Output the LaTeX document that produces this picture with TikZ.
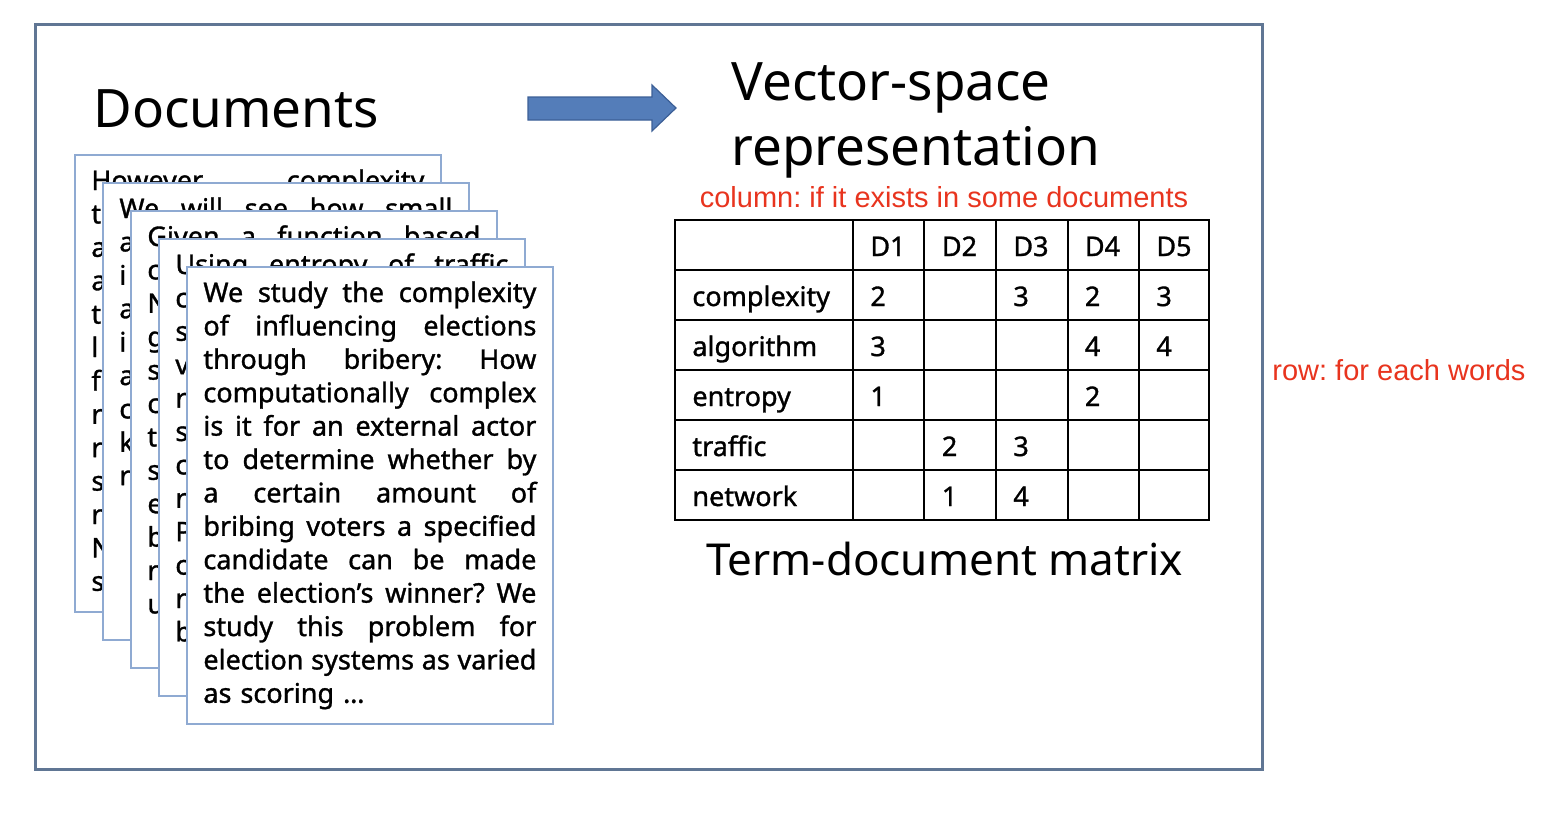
\documentclass[tikz,border=0pt]{standalone}
\usepackage{fontspec}
\setmainfont{Noto Sans}
\newfontfamily\boldishfont{Noto Sans}[FakeBold=1.2]
\newfontfamily\redfont{Liberation Sans}
\usetikzlibrary{positioning}

\definecolor{framegray}{RGB}{96,118,148}
\definecolor{sheetblue}{RGB}{143,170,210}
\definecolor{arrowblue}{RGB}{84,125,185}
\definecolor{arrowedge}{RGB}{60,95,150}
\definecolor{notered}{RGB}{232,52,30}

\newlength{\doctextw}
\setlength{\doctextw}{166.5pt}
\newcommand{\jl}[1]{\makebox[\doctextw][l]{\spaceskip=.25em plus 1fill\relax\xspaceskip=\spaceskip #1}}

\tikzset{
 sheet/.style={draw=sheetblue, fill=white, line width=1pt, minimum width=183pt, minimum height=228.5pt, anchor=north west, inner sep=0},
 doctext/.style={anchor=base west, inner sep=0, align=left, text width=\doctextw, font=\boldishfont\fontsize{13.5}{16.7}\selectfont},
 doctitle/.style={anchor=base west, inner sep=0, align=left, font=\fontsize{26.5}{32.5}\selectfont},
 cell/.style={anchor=base west, inner sep=0, font=\boldishfont\fontsize{13.5}{16}\selectfont},
 rednote/.style={text=notered, inner sep=0, font=\redfont\fontsize{14.5}{17}\selectfont},
}

\begin{document}
\frenchspacing
\begin{tikzpicture}[x=0.5pt,y=-0.5pt]
\useasboundingbox (0,0) rectangle (1546,816);
\draw[framegray, line width=1.5pt] (35,24) rectangle (1262,769);

\node[doctitle] (docs) at (93,127) {Documents};
\draw[arrowedge, fill=arrowblue, line width=0.6pt] (528,97) -- (652,97) -- (652,85) -- (676,108) -- (652,131) -- (652,120) -- (528,120) -- cycle;
\node[doctitle] (vsr) at (731,165) {Vector-space\\representation};

% stack of documents, back to front
\node[sheet] (s1) at (74,154) {};
\node[doctext] (t1) at ([shift={(17,36)}]s1.north west) {\jl{However, complexity}\\t\\a\\a\\t\\l\\f\\r\\r\\s\\r\\N\\s};
\node[sheet] (s2) at (102,182) {};
\node[doctext] (t2) at ([shift={(17,36)}]s2.north west) {\jl{We will see how small}\\a\\i\\a\\i\\a\\c\\k\\r};
\node[sheet] (s3) at (130,210) {};
\node[doctext] (t3) at ([shift={(17,36)}]s3.north west) {\jl{Given a function based}\\c\\N\\g\\s\\c\\t\\s\\e\\b\\r\\u};
\node[sheet] (s4) at (158,238) {};
\node[doctext] (t4) at ([shift={(17,36)}]s4.north west) {\jl{Using entropy of traffic}\\c\\s\\v\\r\\s\\c\\r\\P\\c\\r\\b};
\node[sheet] (s5) at (186,266) {};
\node[doctext] (t5) at ([shift={(17,36)}]s5.north west) {\jl{We study the complexity}\\
 \jl{of influencing elections}\\
 \jl{through bribery: How}\\
 \jl{computationally complex}\\
 \jl{is it for an external actor}\\
 \jl{to determine whether by}\\
 \jl{a certain amount of}\\
 \jl{bribing voters a specified}\\
 \jl{candidate can be made}\\
 \jl{the election’s winner? We}\\
 \jl{study this problem for}\\
 \jl{election systems as varied}\\
 as scoring \ldots};

% term-document matrix
\draw[line width=1.2pt] (675,220) rectangle (1209,520);
\foreach \x in {853,924,996,1068,1139}
 \draw[line width=1.2pt] (\x,220) -- (\x,520);
\foreach \y in {270,320,...,470}
 \draw[line width=1.2pt] (675,\y) -- (1209,\y);
\foreach \c in {1,...,5}
 \node[cell] (d\c) at ({870+71.5*(\c-1)},256) {D\c};
\foreach \w [count=\r] in {complexity,algorithm,entropy,traffic,network}
 \node[cell] (w\r) at (692,{256+50*\r}) {\w};
\foreach \r/\c/\v in {1/1/2,1/3/3,1/4/2,1/5/3,2/1/3,2/4/4,2/5/4,3/1/1,3/4/2,4/2/2,4/3/3,5/2/1,5/3/4}
 \node[cell] (v\r\c) at ({870+71.5*(\c-1)},{256+50*\r}) {\v};
\node[doctitle, font=\fontsize{22}{27}\selectfont] (tdm) at (706,575) {Term-document matrix};

\node[rednote] (colnote) at (944,197) {column: if it exists in some documents};
\node[rednote, anchor=west] (rownote) at (1272,370) {row: for each words};
\end{tikzpicture}
\end{document}
